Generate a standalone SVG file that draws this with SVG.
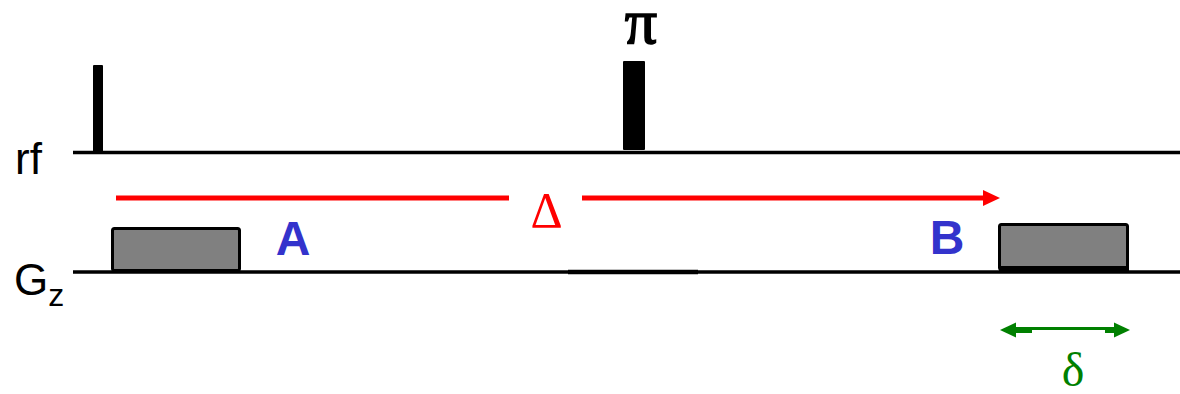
<svg xmlns="http://www.w3.org/2000/svg" width="1180" height="394" viewBox="0 0 1180 394">
<style>
.base{stroke:#000;stroke-width:3.5;fill:none}
.pulse{fill:#000}
.grad{fill:#808080;stroke:#000;stroke-width:3}
.lbl{font-family:"Liberation Sans",Arial,sans-serif;fill:#000}
.ab{font-family:"Liberation Sans",Arial,sans-serif;font-weight:bold;fill:#3333CC;font-size:48px;text-anchor:middle}
.greek{font-family:"Liberation Serif","Times New Roman",serif;text-anchor:middle}
</style>
<rect width="1180" height="394" fill="#fff"/>
<g id="rf-axis">
<line class="base" x1="73" y1="152.5" x2="1180" y2="152.5"/>
<text class="lbl" x="15" y="174" font-size="44">rf</text>
</g>
<g id="gz-axis">
<line class="base" x1="73" y1="272" x2="1180" y2="272"/>
<line stroke="#000" stroke-width="4.5" x1="568" y1="272" x2="698" y2="272"/>
<text class="lbl" x="14" y="295" font-size="44">G<tspan font-size="32" dy="11">z</tspan></text>
</g>
<g id="pulse-90">
<rect class="pulse" x="93" y="65" width="10" height="88" rx="1"/>
</g>
<g id="pulse-180">
<rect class="pulse" x="623" y="61" width="22" height="89" rx="1"/>
<text class="greek" x="641" y="43" font-size="64" stroke="#000" stroke-width="1.6">π</text>
</g>
<g id="grad-A">
<rect class="grad" x="112.5" y="228.5" width="127" height="42" rx="2"/>
<text class="ab" x="293" y="255">A</text>
</g>
<g id="grad-B">
<rect class="grad" x="999.5" y="224.5" width="128" height="45" rx="2"/>
<rect x="999" y="266" width="130" height="5" fill="#000"/>
<text class="ab" x="947" y="254">B</text>
</g>
<g id="connectors">
<g id="delta-arrow" fill="#FF0000" stroke="#FF0000">
<line x1="116" y1="198" x2="509" y2="198" stroke-width="5"/>
<line x1="582" y1="198" x2="986" y2="198" stroke-width="5"/>
<polygon points="983,190 1000,198 983,206" stroke="none"/>
<text class="greek" x="546.5" y="227" font-size="50" stroke="none">Δ</text>
</g>
<g id="small-delta-arrow" fill="#008000">
<line x1="1012" y1="328.5" x2="1118" y2="328.5" stroke="#008000" stroke-width="3"/>
<rect x="1012" y="327" width="20" height="6"/>
<rect x="1105" y="327" width="13" height="6"/>
<polygon points="1000,330 1016,322.5 1016,337.5"/>
<polygon points="1130,330 1114,322.5 1114,337.5"/>
<text class="greek" x="1073" y="386" font-size="48">δ</text>
</g>
</g>
</svg>
